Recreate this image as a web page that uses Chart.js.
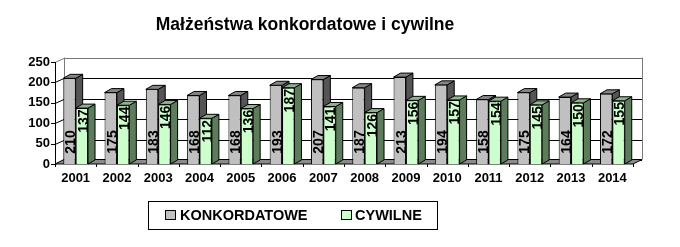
<!DOCTYPE html>
<html><head><meta charset="utf-8">
<script src="https://cdn.jsdelivr.net/npm/chart.js@4.4.0/dist/chart.umd.min.js"></script>
<style>html,body{margin:0;padding:0;background:#fff}canvas{display:block}</style>
</head><body>
<canvas id="c" width="680" height="247"></canvas>
<script>
const years = ['2001','2002','2003','2004','2005','2006','2007','2008','2009','2010','2011','2012','2013','2014'];
const konkordatowe = [210,175,183,168,168,193,207,187,213,194,158,175,164,172];
const cywilne = [137,144,146,112,136,187,141,126,156,157,154,145,150,155];
const yTicks = [0,50,100,150,200,250];
const seriesNames = ['KONKORDATOWE','CYWILNE'];
const titleText = 'Małżeństwa konkordatowe i cywilne';

const FONT = '"Liberation Sans", Arial, sans-serif';
const WDX = 9, WDY = -4.5;   // wall depth
const BDX = 7, BDY = -4;     // bar depth
const faces = [
  {front:'#c0c0c0', side:'#555555', top:'#858585'},
  {front:'#ccffcc', side:'#5c7c5c', top:'#8cb48c'}
];

function poly(ctx, pts, fill, stroke){
  ctx.beginPath();
  ctx.moveTo(pts[0][0], pts[0][1]);
  for (let i=1;i<pts.length;i++) ctx.lineTo(pts[i][0], pts[i][1]);
  ctx.closePath();
  if (fill){ctx.fillStyle=fill;ctx.fill();}
  if (stroke){ctx.strokeStyle=stroke;ctx.lineWidth=1;ctx.stroke();}
}

const threeD = {
  id:'threeD',
  beforeDatasetsDraw(chart){
    const ctx = chart.ctx, a = chart.chartArea, ys = chart.scales.y;
    const L = a.left, R = a.right, T = a.top, B = a.bottom;
    ctx.save();
    yTicks.forEach(v=>{
      const py = Math.round(ys.getPixelForValue(v)) + 0.5;
      const wy = Math.round(py + WDY) + 0.5;
      ctx.lineWidth = 1;
      ctx.strokeStyle = v === yTicks[yTicks.length-1] ? '#7a7a7a' : '#000';
      ctx.beginPath();
      ctx.moveTo(L, py); ctx.lineTo(L+WDX, wy); ctx.lineTo(R+WDX, wy);
      ctx.stroke();
      ctx.strokeStyle='#000';
      ctx.beginPath();
      ctx.moveTo(L-4, py); ctx.lineTo(L, py); ctx.stroke();
    });
    ctx.strokeStyle='#7a7a7a';
    ctx.beginPath();
    ctx.moveTo(Math.round(L+WDX)+0.5, T+WDY); ctx.lineTo(Math.round(L+WDX)+0.5, B+WDY);
    ctx.moveTo(Math.round(R+WDX)+0.5, T+WDY); ctx.lineTo(Math.round(R+WDX)+0.5, B+WDY);
    ctx.stroke();
    ctx.strokeStyle='#000';
    ctx.beginPath();
    ctx.moveTo(Math.round(L)+0.5, T); ctx.lineTo(Math.round(L)+0.5, B); ctx.stroke();
    poly(ctx, [[L,B],[R,B],[R+WDX,B+WDY],[L+WDX,B+WDY]], '#8a8a8a', '#000');
    ctx.strokeStyle='#000';
    for (let i=0;i<=years.length;i++){
      const px = Math.round(L + (R-L)*i/years.length)+0.5;
      ctx.beginPath(); ctx.moveTo(px, B); ctx.lineTo(px, B+3); ctx.stroke();
    }
    chart.data.datasets.forEach((ds, di)=>{
      const meta = chart.getDatasetMeta(di);
      meta.data.forEach(el=>{
        const p = el.getProps(['x','y','base','width'], true);
        const x0 = p.x - p.width/2, x1 = p.x + p.width/2;
        poly(ctx, [[x1,p.y],[x1+BDX,p.y+BDY],[x1+BDX,p.base+BDY],[x1,p.base]], faces[di].side, '#000');
        poly(ctx, [[x0,p.y],[x1,p.y],[x1+BDX,p.y+BDY],[x0+BDX,p.y+BDY]], faces[di].top, '#000');
      });
    });
    ctx.restore();
  },
  afterDatasetsDraw(chart){
    const ctx = chart.ctx;
    ctx.save();
    ctx.font = 'bold 14px ' + FONT;
    ctx.fillStyle = '#000';
    ctx.textAlign = 'center';
    ctx.textBaseline = 'middle';
    chart.data.datasets.forEach((ds, di)=>{
      const meta = chart.getDatasetMeta(di);
      meta.data.forEach((el, i)=>{
        const p = el.getProps(['x','y','base','width'], true);
        const cy = di === 0 ? p.base - 22 : p.y + 13;
        ctx.save();
        ctx.translate(p.x + 1, cy);
        ctx.rotate(-Math.PI/2);
        ctx.fillText(String(ds.data[i]), 0, 1);
        ctx.restore();
      });
    });
    ctx.restore();
  },
  afterDraw(chart){
    const ctx = chart.ctx;
    ctx.save();
    ctx.font = 'bold 17.5px ' + FONT;
    ctx.fillStyle = '#000';
    ctx.textAlign = 'center';
    ctx.textBaseline = 'middle';
    ctx.fillText(titleText, 305, 25);
    ctx.lineWidth = 1;
    ctx.strokeStyle = '#000';
    ctx.strokeRect(148.5, 201.5, 289, 28);
    ctx.font = 'bold 14.5px ' + FONT;
    ctx.textAlign = 'left';
    const items = [[165, 180], [341, 355]];
    seriesNames.forEach((n, i)=>{
      ctx.fillStyle = faces[i].front;
      ctx.fillRect(items[i][0]+0.5, 210.5, 10, 9);
      ctx.strokeRect(items[i][0]+0.5, 210.5, 10, 9);
      ctx.fillStyle = '#000';
      ctx.fillText(n, items[i][1], 215.5);
    });
    ctx.restore();
  }
};

new Chart(document.getElementById('c'), {
  type:'bar',
  data:{
    labels: years,
    datasets:[
      {label: seriesNames[0], data: konkordatowe, backgroundColor: faces[0].front, borderColor:'#000', borderWidth:1},
      {label: seriesNames[1], data: cywilne, backgroundColor: faces[1].front, borderColor:'#000', borderWidth:1}
    ]
  },
  options:{
    responsive:false,
    animation:false,
    devicePixelRatio:1,
    categoryPercentage:0.6,
    barPercentage:1,
    layout:{padding:{left:0,right:47,top:62,bottom:63}},
    plugins:{legend:{display:false}, title:{display:false}, tooltip:{enabled:false}},
    scales:{
      x:{
        grid:{display:false, drawTicks:false},
        border:{display:false},
        ticks:{color:'#000', font:{family:FONT, size:13, weight:'bold'}, padding:7, maxRotation:0},
        afterFit(s){ s.height = 20; }
      },
      y:{
        min:0, max:250,
        afterBuildTicks(s){ s.ticks = yTicks.map(v=>({value:v})); },
        grid:{display:false, drawTicks:false},
        border:{display:false},
        ticks:{color:'#000', font:{family:FONT, size:13, weight:'bold'}, padding:5},
        afterFit(s){ s.width = 55; }
      }
    }
  },
  plugins:[threeD]
});
</script>
</body></html>
